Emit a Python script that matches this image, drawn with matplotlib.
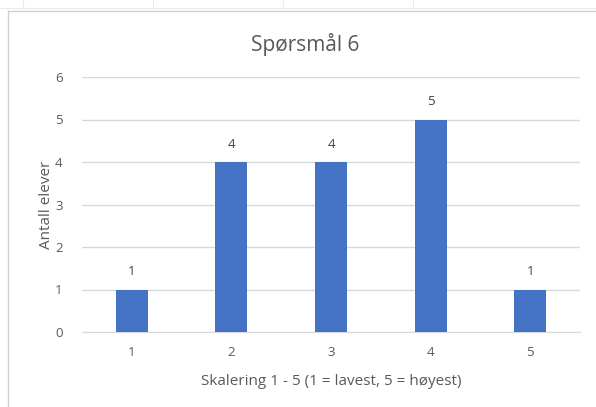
import matplotlib.pyplot as plt
from matplotlib.lines import Line2D

categories = ['1', '2', '3', '4', '5']
antall = [1, 4, 4, 5, 1]

bar_color = '#4472C4'
text_color = '#595959'
grid_color = '#D9D9D9'

plt.rcParams['font.family'] = ['Open Sans', 'DejaVu Sans']

fig = plt.figure(figsize=(5.96, 4.07), dpi=100)
ax = fig.add_axes([82 / 596, 1 - 332 / 407, (580 - 82) / 596, (332 - 77) / 407])

x = range(len(categories))
bars = ax.bar(x, antall, width=0.32, color=bar_color, zorder=3)
for rect, v in zip(bars, antall):
    ax.annotate(str(v), (rect.get_x() + rect.get_width() / 2, v),
                xytext=(0, 8), textcoords='offset points',
                ha='center', va='bottom', fontsize=9.5, color='#404040')

ax.set_xlim(-0.5, len(categories) - 0.5)
ax.set_ylim(0, 6)
ax.set_yticks(range(0, 7))
ax.set_xticks(list(x))
ax.set_xticklabels(categories)
ax.grid(axis='y', color=grid_color, linewidth=1, zorder=0)
for side in ['left', 'right', 'top']:
    ax.spines[side].set_visible(False)
ax.spines['bottom'].set_color(grid_color)
ax.tick_params(axis='both', length=0, labelsize=9.5, colors=text_color)
ax.tick_params(axis='x', pad=10)
ax.tick_params(axis='y', pad=14)

fig.text(305 / 596, 1 - 45 / 407, 'Spørsmål 6', fontsize=15, color=text_color,
         ha='center', va='center')
ax.set_xlabel('Skalering 1 - 5 (1 = lavest, 5 = høyest)', fontsize=11,
              color=text_color, labelpad=11)
ax.set_ylabel('Antall elever', fontsize=11, color=text_color, labelpad=1)

# chart frame and faint sheet grid behind it
fig.add_artist(Line2D([8 / 596, 1], [1 - 11 / 407] * 2, color='#D0D0D0', lw=1))
fig.add_artist(Line2D([8 / 596] * 2, [0, 1 - 11 / 407], color='#D0D0D0', lw=1))
fig.add_artist(Line2D([0, 1], [1 - 8 / 407] * 2, color='#EBEBEB', lw=0.8))
for gx in [23, 153, 283, 413]:
    fig.add_artist(Line2D([gx / 596] * 2, [1 - 8 / 407, 1], color='#EBEBEB', lw=0.8))

fig.savefig('out.png', dpi=100)
